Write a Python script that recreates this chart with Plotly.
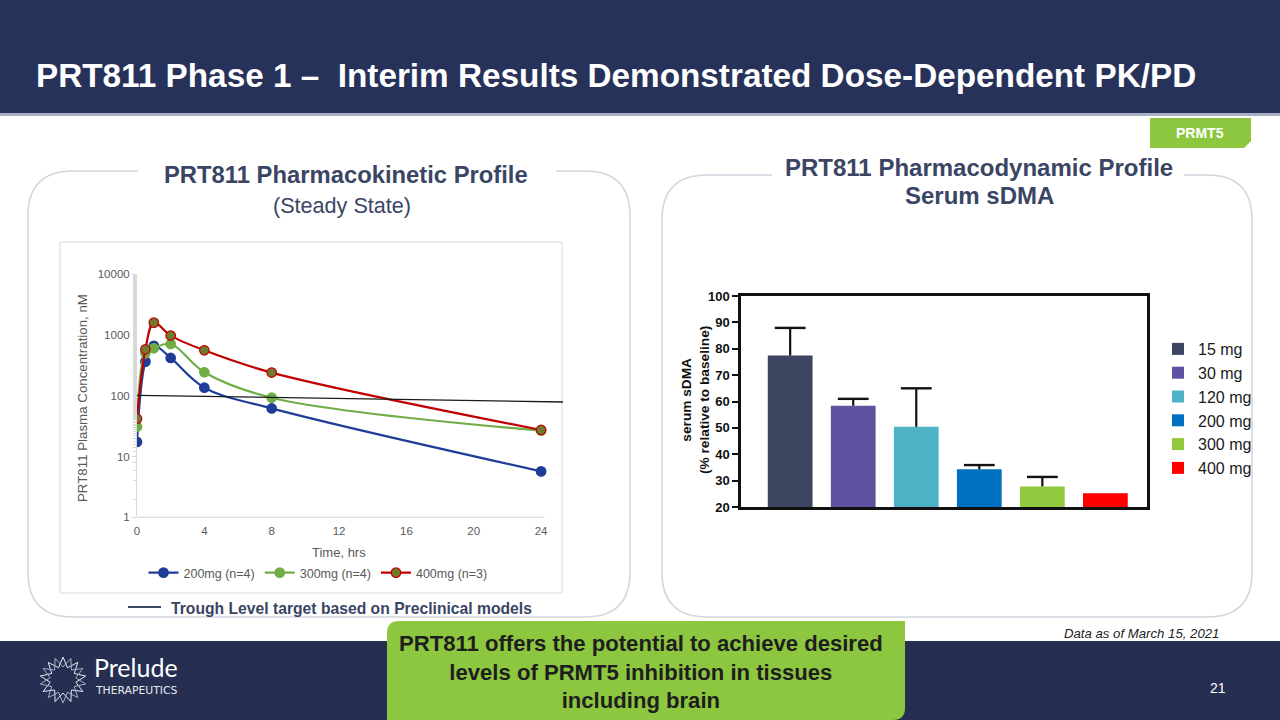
import math
import plotly.graph_objects as go

W, H = 1280, 720

# ---------------- data ----------------
time_h = [0, 0.5, 1, 2, 4, 8, 24]
conc_200 = [17.4, 365, 665, 420, 136, 62, 5.7]
conc_300 = [31, 500, 605, 713, 244, 93, 26.7]
conc_400 = [42, 583, 1600, 980, 561, 241, 27.4]
pk_names = ["200mg (n=4)", "300mg (n=4)", "400mg (n=3)"]
trough_t = [0, 25.3]
trough_conc = [102, 79]
pk_xticks = [0, 4, 8, 12, 16, 20, 24]
pk_yticks = [1, 10, 100, 1000, 10000]

pd_doses = ["15 mg", "30 mg", "120 mg", "200 mg", "300 mg", "400 mg"]
sdma_pct = [77.4, 58.4, 50.4, 34.3, 27.8, 25.2]
sdma_err = [10.5, 2.6, 14.6, 1.6, 3.6, 0]
pd_yticks = [20, 30, 40, 50, 60, 70, 80, 90, 100]

# ---------------- helpers ----------------
def px(x):
    return x / W

def py(y):
    return 1 - y / H

def pth(cmds):
    out = []
    for c in cmds:
        if isinstance(c, str):
            out.append(c)
        else:
            out.append(f"{px(c[0]):.5f},{py(c[1]):.5f}")
    return " ".join(out)

def panel_path(x0, y0, x1, y1, r, g0, g1):
    return pth(["M", (g1, y0), "L", (x1 - r, y0), "Q", (x1, y0), (x1, y0 + r),
                "L", (x1, y1 - r), "Q", (x1, y1), (x1 - r, y1),
                "L", (x0 + r, y1), "Q", (x0, y1), (x0, y1 - r),
                "L", (x0, y0 + r), "Q", (x0, y0), (x0 + r, y0), "L", (g0, y0)])

FONT = "Liberation Sans, Arial, sans-serif"
NAVY_TXT = "#3a4564"
GREY_TXT = "#595959"

fig = go.Figure()

# ---------------- PK chart ----------------
pk_colors = ["#1f3c98", "#70ad47", "#c00000"]
pk_fill = ["#1f3c98", "#70ad47", "#6f7a2e"]
for name, vals, lc, fc in zip(pk_names, [conc_200, conc_300, conc_400], pk_colors, pk_fill):
    fig.add_trace(go.Scatter(
        x=time_h, y=vals, name=name, mode="lines+markers",
        line=dict(color=lc, width=2.2, shape="spline"),
        marker=dict(size=9.5, color=fc, line=dict(color=lc, width=1.2)),
        xaxis="x", yaxis="y", legend="legend"))

fig.add_trace(go.Scatter(
    x=trough_t, y=trough_conc, mode="lines", showlegend=False,
    line=dict(color="#1a1a1a", width=1.3), xaxis="x", yaxis="y"))

# ---------------- PD bar chart ----------------
bar_colors = ["#3d4560", "#5e53a0", "#4fb3c8", "#0070c0", "#92c83e", "#ff0000"]
for d, v, c in zip(pd_doses, sdma_pct, bar_colors):
    fig.add_trace(go.Bar(
        x=[d], y=[v], name=d, width=0.71,
        marker=dict(color=c, line=dict(width=0)),
        xaxis="x2", yaxis="y2", legend="legend2"))

# upper-only error bars: stem via error_y (no caps), cap via line marker at the top
eb = [(d, v, e) for d, v, e in zip(pd_doses, sdma_pct, sdma_err) if e > 0]
fig.add_trace(go.Scatter(
    x=[d for d, v, e in eb], y=[v + e for d, v, e in eb], mode="markers",
    marker=dict(symbol="line-ew-open", size=22, color="#111111",
                line=dict(color="#111111", width=2.4)),
    error_y=dict(type="data", symmetric=False, array=[0] * len(eb),
                 arrayminus=[e for d, v, e in eb], width=0, thickness=2.2, color="#111111"),
    showlegend=False, xaxis="x2", yaxis="y2", legend="legend2"))

# ---------------- shapes ----------------
shapes = []
shapes.append(dict(type="rect", xref="paper", yref="paper", x0=0, x1=1,
                   y0=py(113), y1=1, fillcolor="#27325a", line_width=0, layer="below"))
shapes.append(dict(type="rect", xref="paper", yref="paper", x0=0, x1=1,
                   y0=py(116), y1=py(113), fillcolor="#aab1c2", line_width=0, layer="below"))
shapes.append(dict(type="rect", xref="paper", yref="paper", x0=0, x1=1,
                   y0=0, y1=py(641), fillcolor="#262f52", line_width=0, layer="below"))
shapes.append(dict(type="path", xref="paper", yref="paper",
                   path=pth(["M", (1150, 118), "L", (1251, 118), "L", (1251, 141),
                             "L", (1244, 148), "L", (1150, 148), "Z"]),
                   fillcolor="#8dc63f", line_width=0, layer="below"))
shapes.append(dict(type="path", xref="paper", yref="paper",
                   path=panel_path(28, 171, 630, 617, 45, 138, 556),
                   line=dict(color="#d3d6df", width=1.6), layer="below"))
shapes.append(dict(type="path", xref="paper", yref="paper",
                   path=panel_path(662, 175, 1252, 617, 45, 772, 1184),
                   line=dict(color="#d3d6df", width=1.6), layer="below"))
shapes.append(dict(type="rect", xref="paper", yref="paper",
                   x0=px(60), x1=px(562), y0=py(593), y1=py(242),
                   line=dict(color="#d9d9d9", width=1), layer="below"))
shapes.append(dict(type="line", xref="x", yref="y domain", x0=0, x1=24.2, y0=0, y1=0,
                   line=dict(color="#d9d9d9", width=1), layer="below"))
shapes.append(dict(type="line", xref="paper", yref="paper", x0=px(128), x1=px(161),
                   y0=py(607), y1=py(607), line=dict(color=NAVY_TXT, width=2)))
shapes.append(dict(type="path", xref="paper", yref="paper",
                   path=pth(["M", (387, 633), "Q", (387, 621), (399, 621), "L", (905, 621),
                             "L", (905, 708), "Q", (905, 720), (893, 720), "L", (387, 720), "Z"]),
                   fillcolor="#8dc63f", line_width=0))
cx, cy = 63, 680
for rot, col in [(0, "#e8eaf0"), (math.pi / 9, "#aab0c4")]:
    cmds = []
    n = 9
    for k in range(2 * n):
        r = 23 if k % 2 == 0 else 13
        a = rot + k * math.pi / n - math.pi / 2
        cmds += ["M" if k == 0 else "L", (cx + r * math.cos(a), cy + r * math.sin(a))]
    cmds.append("Z")
    shapes.append(dict(type="path", xref="paper", yref="paper", path=pth(cmds),
                       line=dict(color=col, width=1)))

# ---------------- annotations ----------------
ann = []
def text(x, y, s, size, color, bold=False, xanchor="center", yanchor="middle",
         family=FONT, angle=0):
    ann.append(dict(x=px(x), y=py(y), xref="paper", yref="paper", text=s,
                    showarrow=False, xanchor=xanchor, yanchor=yanchor, textangle=angle,
                    font=dict(family=family, size=size, color=color,
                              weight="bold" if bold else "normal")))

text(34, 76, "PRT811 Phase 1 –  Interim Results Demonstrated Dose-Dependent PK/PD", 33.3, "white",
     bold=True, xanchor="left")
text(1200, 133, "PRMT5", 14, "white", bold=True)
text(346, 174, "PRT811 Pharmacokinetic Profile", 23.8, NAVY_TXT, bold=True)
text(342, 205, "(Steady State)", 21.6, NAVY_TXT)
text(979, 167, "PRT811 Pharmacodynamic Profile", 24, NAVY_TXT, bold=True)
text(979, 196, "Serum sDMA", 24, NAVY_TXT, bold=True)
text(339, 552, "Time, hrs", 13, GREY_TXT)
text(82, 398, "PRT811 Plasma Concentration, nM", 13.3, GREY_TXT, angle=-90)
text(169, 608, "Trough Level target based on Preclinical models", 15.7, NAVY_TXT, bold=True,
     xanchor="left")
text(695, 400, "serum sDMA<br>(% relative to baseline)", 13.7, "#111111", bold=True, angle=-90)
text(1221, 633, "<i>Data as of March 15, 2021</i>", 13.2, "#222222", xanchor="right")
text(641, 672, "PRT811 offers the potential to achieve desired<br>levels of PRMT5 inhibition in tissues<br>including brain",
     22.1, "#1e1e1e", bold=True)
text(1218, 688, "21", 14, "white")
text(92, 667, "Prelude", 25, "white", xanchor="left", family="Lato, Liberation Sans, sans-serif")
text(93, 690, "THERAPEUTICS", 10.8, "#e6e8ee", xanchor="left", family="DejaVu Sans, sans-serif")

fig.update_layout(
    width=W, height=H, margin=dict(l=0, r=0, t=0, b=0, pad=0, autoexpand=False),
    paper_bgcolor="white", plot_bgcolor="rgba(0,0,0,0)",
    font=dict(family=FONT),
    barmode="overlay",
    shapes=shapes, annotations=ann,
    xaxis=dict(domain=[px(137), px(563)], range=[0, 25.3], tickvals=pk_xticks,
               showline=False, showgrid=False, zeroline=False, ticks="", automargin=False,
               ticklabelstandoff=5,
               tickfont=dict(size=11.5, color=GREY_TXT), anchor="y"),
    yaxis=dict(domain=[py(517.3), py(274.3)], type="log", range=[0, 4], automargin=False,
               tickvals=pk_yticks, ticktext=[str(v) for v in pk_yticks],
               showline=True, linecolor="#d9d9d9", linewidth=1, showgrid=False,
               zeroline=False, ticks="outside", ticklen=4, tickcolor="#d9d9d9",
               minor=dict(ticks="outside", ticklen=3, tickcolor="#d9d9d9", showgrid=False),
               tickfont=dict(size=11.5, color=GREY_TXT), anchor="x"),
    xaxis2=dict(domain=[px(741), px(1147)], range=[-0.78, 5.66], type="category",
                showline=True, mirror=True, linecolor="#111111", linewidth=2.5, automargin=False,
                showticklabels=False, ticks="", showgrid=False, zeroline=False, anchor="y2"),
    yaxis2=dict(domain=[py(507), py(296)], range=[20, 100], tickvals=pd_yticks,
                showline=True, mirror=True, linecolor="#111111", linewidth=2.5, automargin=False,
                ticks="outside", ticklen=6, tickwidth=2, tickcolor="#111111",
                showgrid=False, zeroline=False,
                tickfont=dict(size=13, color="#111111", weight="bold"), anchor="x2"),
    legend=dict(orientation="h", x=px(318), xanchor="center", y=py(573), yanchor="middle",
                font=dict(size=12.5, color=GREY_TXT), bgcolor="rgba(0,0,0,0)"),
    legend2=dict(x=px(1158), xanchor="left", y=py(332), yanchor="top",
                 font=dict(size=16, color="#1a1a1a"), bgcolor="rgba(0,0,0,0)",
                 tracegroupgap=0),
)

post = (
    "document.documentElement.style.margin='0';document.documentElement.style.padding='0';"
    "document.documentElement.style.overflow='hidden';"
    "document.body.style.margin='0';document.body.style.padding='0';"
    "document.body.style.overflow='hidden';"
)

fig.write_html("out.html", config={"displayModeBar": False}, post_script=post)
